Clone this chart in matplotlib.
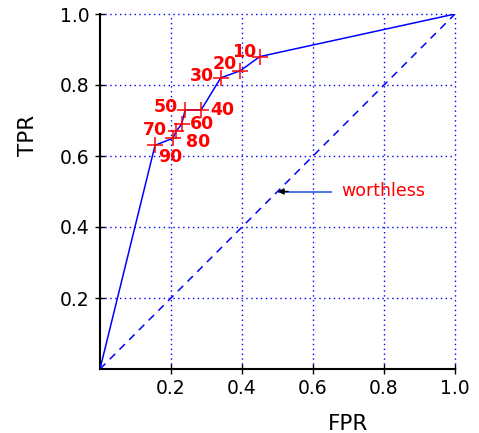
import matplotlib
matplotlib.use("Agg")
import matplotlib.pyplot as plt

# ROC points (FPR, TPR) for thresholds 10..90
thresholds = ["10", "20", "30", "40", "50", "60", "70", "80", "90"]
fpr = [0.45, 0.395, 0.34, 0.285, 0.24, 0.23, 0.215, 0.205, 0.155]
tpr = [0.88, 0.84, 0.82, 0.73, 0.73, 0.69, 0.67, 0.65, 0.63]

ticks = [0.2, 0.4, 0.6, 0.8, 1.0]
tick_labels = ["0.2", "0.4", "0.6", "0.8", "1.0"]

# label placement (offset pixels, alignment) per threshold label
label_pos = {
    "10": (-3, 0, "right", "baseline"),
    "20": (-3, 2, "right", "baseline"),
    "30": (-7, 2, "right", "center"),
    "40": (9, 0, "left", "center"),
    "50": (-7, 3, "right", "center"),
    "60": (8, 0, "left", "center"),
    "70": (-9, 1, "right", "center"),
    "80": (13, -4, "left", "center"),
    "90": (3, -3, "left", "top"),
}

fig = plt.figure(figsize=(4.79, 4.33), dpi=100)
ax = fig.add_axes([100 / 479, 1 - 369 / 433, 355 / 479, 355 / 433])

# curve from (0,0) through points (low FPR first) to (1,1)
cx = [0] + fpr[::-1] + [1]
cy = [0] + tpr[::-1] + [1]
ax.plot(cx, cy, color="blue", lw=1.1, zorder=3)
ax.plot([0, 1], [0, 1], color="blue", lw=1.1, ls=(0, (5, 4)), zorder=2)
ax.plot(fpr, tpr, ls="none", marker="+", ms=12, mew=1.1, color="red", zorder=4)

for t, x, y in zip(thresholds, fpr, tpr):
    dx, dy, ha, va = label_pos[t]
    ax.annotate(t, (x, y), xytext=(dx, dy), textcoords="offset pixels",
                ha=ha, va=va, color="red", fontweight="bold", fontsize=12.5, zorder=5)

# "worthless" pointer: blue shaft, black head
ax.plot([0.505, 0.65], [0.5, 0.5], color="royalblue", lw=1.3, zorder=3)
ax.annotate("", xy=(0.5, 0.5), xytext=(0.53, 0.5),
            arrowprops=dict(arrowstyle="-|>", color="black", lw=1,
                            mutation_scale=9, shrinkA=0, shrinkB=0), zorder=4)
ax.text(0.68, 0.5, "worthless", color="red", fontsize=12.5, va="center", ha="left")

ax.set_xlim(0, 1)
ax.set_ylim(0, 1)
ax.set_xticks(ticks)
ax.set_xticklabels(tick_labels)
ax.set_yticks(ticks)
ax.set_yticklabels(tick_labels)
ax.tick_params(direction="inout", length=7, width=1, labelsize=13.5, colors="black", pad=4)
ax.grid(True, color="blue", ls=(0, (1, 2.5)), lw=1)
for gl in ax.get_xgridlines() + ax.get_ygridlines():
    gl.set_clip_on(False)
for s in ["top", "right"]:
    ax.spines[s].set_visible(False)
for s in ["left", "bottom"]:
    ax.spines[s].set_linewidth(1.5)

fig.text(28 / 479, 1 - 135 / 433, "TPR", rotation=90, fontsize=15.5, ha="center", va="center")
fig.text(348 / 479, 1 - 424 / 433, "FPR", fontsize=15.5, ha="center", va="center")

fig.savefig("out.png", dpi=100)
